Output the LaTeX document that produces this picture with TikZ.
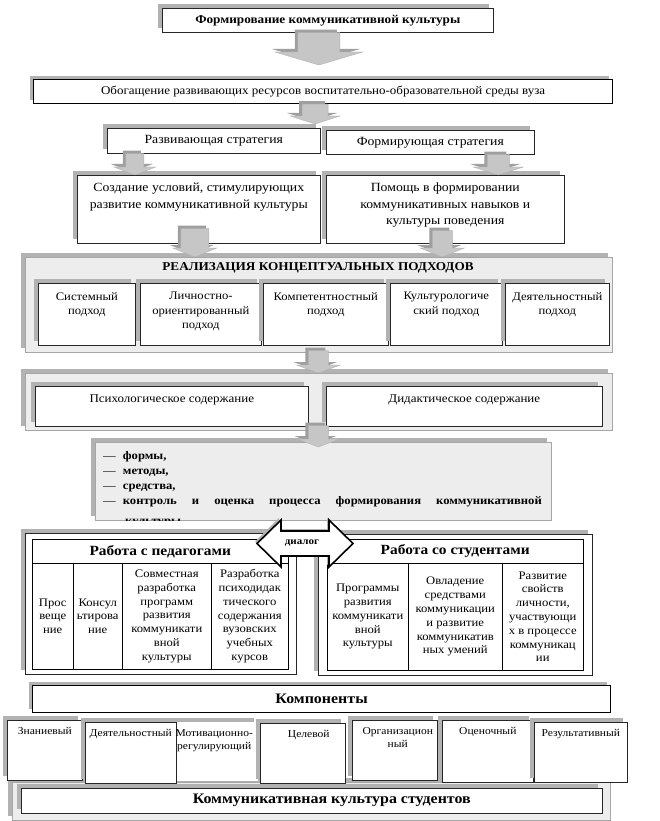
\documentclass[tikz,border=0pt]{standalone}
\usepackage{fontspec}
\setmainfont{Liberation Serif}[FakeStretch=1.1]
\usetikzlibrary{calc,shadows,positioning}

\tikzstyle{boxshadow}=[drop shadow={shadow xshift=-4pt,shadow yshift=4pt,fill=gray!60,opacity=1}]
\tikzstyle{wbox}=[draw=black!85,fill=white,line width=.6pt,inner sep=0pt,boxshadow]
\tikzstyle{hbox}=[wbox,draw=black,line width=1.2pt]
\tikzstyle{gbox}=[draw=gray!70,fill=gray!14,line width=.7pt,inner sep=0pt,boxshadow]
\tikzstyle{cell}=[draw=black,fill=white,line width=.5pt,inner sep=0pt]
\tikzstyle{nobox}=[fill=white,inner sep=0pt,boxshadow]
\tikzstyle{arrbody}=[fill=gray!45,draw=gray!60,line width=.4pt]
\tikzstyle{arrshade}=[fill=gray!75]
\tikzstyle{dlgarrow}=[draw=black,line width=1.6pt,fill=white,drop shadow={shadow xshift=-2pt,shadow yshift=2pt,fill=gray!60,opacity=1}]
\tikzstyle{txt}=[inner sep=0pt,align=center,font=\fontsize{12.5}{16.5}\selectfont]
\tikzstyle{otxt}=[inner sep=0pt,align=center,font=\fontsize{11.8}{14}\selectfont]
\tikzstyle{btxt}=[inner sep=0pt,align=center,font=\bfseries\fontsize{12}{14}\selectfont]
\tikzstyle{htxt}=[inner sep=0pt,align=center,font=\bfseries\fontsize{14}{16}\selectfont]
\tikzstyle{ltxt}=[inner sep=0pt,align=center,font=\bfseries\fontsize{14.5}{17}\selectfont]
\tikzstyle{stxt}=[inner sep=0pt,align=center,font=\fontsize{11.5}{14.5}\selectfont]
\tikzstyle{ctxt}=[inner sep=0pt,align=center,font=\fontsize{11.5}{13.8}\selectfont]
\tikzstyle{ktxt}=[inner sep=0pt,align=center,font=\fontsize{10.5}{13}\selectfont]
\tikzstyle{listtxt}=[inner sep=0pt,font=\fontsize{11.5}{15}\selectfont]
\tikzstyle{dtxt}=[inner sep=0pt,font=\bfseries\fontsize{10}{12}\selectfont]

% box from corner (x1,y1) to corner (x2,y2)
\newcommand{\cbox}[7]{
 \pgfmathsetmacro{\cbw}{#5-#3}
 \pgfmathsetmacro{\cbh}{#6-#4}
 \node[#1,anchor=north west,minimum width=\cbw pt,minimum height=\cbh pt] (#2) at (#3,#4) {#7};
}
% vertical block arrow: start, tip, shaft half width, head half width, head length
\newcommand{\blockarrow}[5]{
 \path #1 coordinate (ba-s);
 \path #2 coordinate (ba-q);
 \coordinate (ba-t) at (ba-s |- ba-q);
 \def\bapath{($(ba-s)+(-#3,0)$) -- ($(ba-s)+(#3,0)$) -- ($(ba-t)+(#3,-#5)$) -- ($(ba-t)+(#4,-#5)$) -- (ba-t) -- ($(ba-t)+(-#4,-#5)$) -- ($(ba-t)+(-#3,-#5)$) -- cycle}
 \path[arrshade,transform canvas={xshift=-3pt,yshift=3pt}] \bapath;
 \path[arrbody] \bapath;
}

\begin{document}
\begin{tikzpicture}[x=1pt,y=-1pt]
\useasboundingbox (0,0) rectangle (660,821);
%
\cbox{wbox,btxt}{form}{162}{8}{493}{32}{Формирование коммуникативной культуры}
\cbox{hbox,otxt}{obog}{33}{79}{612}{103}{Обогащение развивающих ресурсов воспитательно-образовательной среды вуза}
\cbox{wbox,txt}{razv}{107}{128}{320}{153}{Развивающая стратегия}
\cbox{wbox,txt}{fstr}{326}{130}{534}{154}{Формирующая стратегия}
%
\cbox{wbox}{sozd}{77}{175}{320}{243}{}
\node[txt,anchor=north] (sozd-t) at ($(sozd.north)+(0,8)$) {Создание условий, стимулирующих\\развитие коммуникативной культуры};
\cbox{wbox}{pomo}{326}{175}{564}{243}{}
\node[txt,anchor=north] (pomo-t) at ($(pomo.north)+(0,8)$) {Помощь в формировании\\коммуникативных навыков и\\культуры поведения};
%
\cbox{gbox}{real}{25}{257}{612}{352}{}
\node[btxt] (real-t) at (318,268) {РЕАЛИЗАЦИЯ КОНЦЕПТУАЛЬНЫХ ПОДХОДОВ};
\foreach \nm/\xa/\xb/\lbl in {sist/38/135/{Системный\\подход},lich/140/261/{Личностно-\\ориентированный\\подход},komp/263/388/{Компетентностный\\подход},kult/390/502/{Культурологиче\\ский подход},deya/505/609/{Деятельностный\\подход}}
{
 \cbox{wbox}{\nm}{\xa}{283}{\xb}{345}{}
 \node[stxt,anchor=north] (\nm-t) at ($(\nm.north)+(0,9)$) {\lbl};
}
%
\cbox{gbox}{cont}{25}{373}{612}{430}{}
\cbox{wbox}{psih}{35}{386}{308}{426}{}
\node[otxt,anchor=north] (psih-t) at ($(psih.north)+(0,9)$) {Психологическое содержание};
\cbox{wbox}{didk}{326}{386}{602}{426}{}
\node[otxt,anchor=north] (didk-t) at ($(didk.north)+(0,9)$) {Дидактическое содержание};
%
\cbox{gbox}{list}{95}{442}{551}{520}{}
\begin{scope}
 \clip (list.north west) rectangle (list.south east);
 \foreach \lbl [count=\i] in {{формы,},{методы,},{средства,}}
  \node[listtxt,anchor=base west] (li\i) at (103,444+15*\i) {—\hspace{7pt}\textbf{\lbl}};
 \node[listtxt,anchor=base west] (li4) at (103,504) {—\hspace{7pt}\makebox[419pt][s]{\bfseries контроль и оценка процесса формирования коммуникативной}};
 \node[listtxt,anchor=base west] (li5) at (125,524) {\bfseries культуры};
\end{scope}
%
\cbox{wbox}{lpan}{25}{533}{296}{674}{}
\cbox{cell,htxt}{lhead}{32}{539}{288}{563}{Работа с педагогами}
\cbox{cell,ctxt}{l1}{32}{563}{73}{669}{Прос\\веще\\ние}
\cbox{cell,ctxt}{l2}{73}{563}{122}{669}{Консул\\ьтирова\\ние}
\cbox{cell,ctxt}{l3}{122}{563}{211}{669}{Совместная\\разработка\\программ\\развития\\коммуникати\\вной\\культуры}
\cbox{cell,ctxt}{l4}{211}{563}{288}{669}{Разработка\\психодидак\\тического\\содержания\\вузовских\\учебных\\курсов}
%
\cbox{wbox}{rpan}{318}{534}{592}{675}{}
\cbox{cell,htxt}{rhead}{327}{539}{583}{563}{Работа со студентами}
\cbox{cell,ctxt}{r1}{327}{563}{408}{670}{Программы\\развития\\коммуникати\\вной\\культуры}
\cbox{cell,ctxt}{r2}{408}{563}{502}{670}{Овладение\\средствами\\коммуникации\\и развитие\\коммуникатив\\ных умений}
\cbox{cell,ctxt}{r3}{502}{563}{583}{670}{Развитие\\свойств\\личности,\\участвующи\\х в процессе\\коммуникац\\ии}
%
\coordinate (dlg) at (305,543.5);
\draw[dlgarrow] ($(dlg)+(-48,0)$) -- ($(dlg)+(-24,-23.5)$) -- ($(dlg)+(-24,-12.5)$) -- ($(dlg)+(24,-12.5)$) -- ($(dlg)+(24,-23.5)$) -- ($(dlg)+(48,0)$) -- ($(dlg)+(24,23.5)$) -- ($(dlg)+(24,12.5)$) -- ($(dlg)+(-24,12.5)$) -- ($(dlg)+(-24,23.5)$) -- cycle;
\node[dtxt] (dlg-t) at ($(dlg)+(-3,0)$) {диалог};
%
\cbox{hbox,ltxt}{kmpn}{32}{685}{610}{712}{Компоненты}
\cbox{gbox}{kkso}{12}{782}{610}{820}{}
\cbox{wbox}{znan}{7}{720}{82}{780}{}
\cbox{nobox}{motv}{176}{722}{258}{781}{}
\cbox{wbox}{dejt}{85}{722}{176}{783}{}
\cbox{wbox}{celv}{260}{723}{345}{783}{}
\cbox{wbox}{orgn}{352}{720}{437}{780}{}
\cbox{wbox}{ocen}{442}{720}{533}{782}{}
\cbox{wbox}{rezt}{534}{722}{627}{782}{}
\node[ktxt,anchor=north] (znan-t) at ($(znan.north)+(0,7)$) {Знаниевый};
\node[ktxt,anchor=north] (dejt-t) at ($(dejt.north)+(0,7)$) {Деятельностный};
\node[ktxt,anchor=north] (motv-t) at ($(motv.north)+(-3,7)$) {Мотивационно-\\регулирующий};
\node[ktxt,anchor=north] (celv-t) at ($(celv.north)+(6,7)$) {Целевой};
\node[ktxt,anchor=north] (orgn-t) at ($(orgn.north)+(3,7)$) {Организацион\\ный};
\node[ktxt,anchor=north] (ocen-t) at ($(ocen.north)+(0,7)$) {Оценочный};
\node[ktxt,anchor=north] (rezt-t) at ($(rezt.north)+(0,7)$) {Результативный};
\cbox{wbox}{kkst}{21}{788}{602}{813}{}
\node[ltxt] (kkst-t) at ($(kkst.center)+(20,0)$) {Коммуникативная культура студентов};
%
\blockarrow{($(form.south)+(-9,0)$)}{($(obog.north)+(0,-14)$)}{21}{44}{13}
\blockarrow{($(obog.south)+(-8,0)$)}{($(razv.north)+(0,-4)$)}{13}{25}{8}
\blockarrow{($(razv.south)+(-79,0)$)}{(sozd.north)}{9}{21}{8}
\blockarrow{($(fstr.south)+(68,0)$)}{(pomo.north)}{11}{25}{8}
\blockarrow{($(sozd.south)+(-4,-15)$)}{(real.north)}{14}{22}{9}
\blockarrow{($(pomo.south)+(-3,-13)$)}{(real.north)}{10}{22}{9}
\blockarrow{($(real.south)+(-0.5,-2)$)}{($(cont.north)+(0,0)$)}{10}{22}{8}
\blockarrow{($(cont.south)+(-0.5,-5)$)}{($(list.north)+(0,5)$)}{10}{21}{8}
\end{tikzpicture}
\end{document}
